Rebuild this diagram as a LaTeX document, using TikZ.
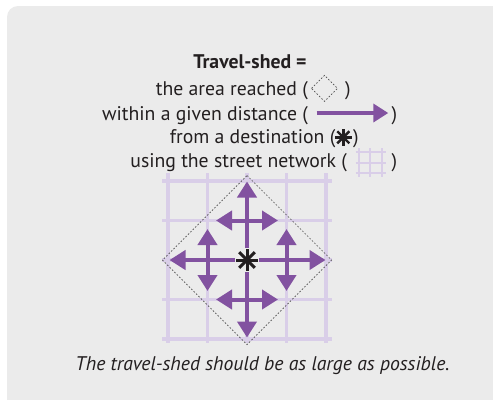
\documentclass[tikz,border=0pt]{standalone}
\usepackage{fontspec}
\setmainfont{PT Sans}
\usetikzlibrary{arrows.meta,calc}
\definecolor{bgray}{HTML}{EBEBEB}
\definecolor{ink}{HTML}{231F20}
\definecolor{arrowpurple}{RGB}{130,82,160}
\definecolor{gridpurple}{RGB}{217,206,232}
\definecolor{dashgray}{HTML}{505050}
\newcommand{\txtsize}{\fontsize{19.8}{23}\selectfont}
\tikzset{
  txt/.style={font=\txtsize, text=ink, inner sep=0pt},
  gridline/.style={draw=gridpurple, line width=3.6bp},
  smallgrid/.style={draw=gridpurple, line width=1.8bp},
  shed/.style={draw=dashgray, line width=0.7bp, dash pattern=on 1.6bp off 1.8bp},
  flow/.style={draw=arrowpurple, line width=4bp, -{Triangle[length=16bp,width=19bp]}},
  flowtwo/.style={draw=arrowpurple, line width=4bp, {Triangle[length=16bp,width=19bp]}-{Triangle[length=16bp,width=19bp]}},
  legendflow/.style={draw=arrowpurple, line width=3.5bp, -{Triangle[length=15bp,width=18bp]}},
  starline/.style={draw=ink, line width=3bp},
  halo/.style={draw=bgray, line width=7bp},
}
\begin{document}
\begin{tikzpicture}[x=1bp,y=-1bp]
\useasboundingbox (0,0) rectangle (493,399);
\fill[bgray, rounded corners=11bp] (7,6) rectangle (510,412);

% --- text lines ---
\node[txt, anchor=base] (title) at (250,68.3) {\bfseries Travel-shed =};
\node[txt, anchor=base east] (l2a) at (308,95) {the area reached (};
\node[txt, anchor=base west] (l2b) at (345,95) {)};
\node[txt, anchor=base east] (l3a) at (308,120) {within a given distance (};
\node[txt, anchor=base west] (l3b) at (391.5,120) {)};
\node[txt, anchor=base east] (l4a) at (335.5,143.3) {from a destination (};
\node[txt, anchor=base west] (l4b) at (353,143.3) {)};
\node[txt, anchor=base east] (l5a) at (347,167.3) {using the street network (};
\node[txt, anchor=base west] (l5b) at (391.5,167.3) {)};

% --- legend icons ---
\coordinate (dc) at (324.5,88.3);
\draw[shed] (311.5,88.3) -- (324.5,75.3) -- (337.5,88.3) -- (324.5,101.3) -- cycle;
\coordinate (ls) at (316.7,113);
\coordinate (le) at (388.3,113);
\draw[legendflow] (ls) -- (le);
\coordinate (sc) at (343.3,137.3);
\foreach \a in {0,45,90,135} {
  \draw[draw=ink, line width=2.4bp] ($(sc)+(\a:8.5)$) -- ($(sc)+(\a+180:8.5)$);
}
\foreach \x in {359.3,370,381.7} \draw[smallgrid] (\x,148) -- (\x,177);
\foreach \y in {151.7,162.7,173.3} \draw[smallgrid] (355.5,\y) -- (385.5,\y);

% --- street grid ---
\coordinate (c) at (247,260);
\foreach \i in {-2,...,2} {
  \draw[gridline] ($(c)+(-85,\i*39.5)$) -- ($(c)+(85,\i*39.5)$);
  \draw[gridline] ($(c)+(\i*39.5,-87)$) -- ($(c)+(\i*39.5,83)$);
}

% --- travel-shed ---
\draw[shed] ($(c)+(0,-84.5)$) -- ($(c)+(84.5,0)$) -- ($(c)+(0,84.5)$) -- ($(c)+(-84.5,0)$) -- cycle;

% --- arrows ---
\coordinate (tU) at ($(c)+(0,-78.5)$);
\coordinate (tD) at ($(c)+(0,77.5)$);
\coordinate (tL) at ($(c)+(-77.5,0)$);
\coordinate (tR) at ($(c)+(78.5,0)$);
\draw[flow] (c) -- (tU);
\draw[flow] (c) -- (tD);
\draw[flow] (c) -- (tL);
\draw[flow] (c) -- (tR);
\draw[flowtwo] ($(c)+(-31,-39.5)$) -- ($(c)+(31,-39.5)$);
\draw[flowtwo] ($(c)+(-31,39.5)$) -- ($(c)+(31,39.5)$);
\draw[flowtwo] ($(c)+(-39.5,-31)$) -- ($(c)+(-39.5,31)$);
\draw[flowtwo] ($(c)+(39.5,-31)$) -- ($(c)+(39.5,31)$);

% --- destination ---
\foreach \a in {0,45,90,135} {
  \draw[halo] ($(c)+(\a:12)$) -- ($(c)+(\a+180:12)$);
}
\foreach \a in {0,45,90,135} {
  \draw[starline] ($(c)+(\a:11)$) -- ($(c)+(\a+180:11)$);
}

% --- caption ---
\node[txt, anchor=base] (cap) at (262.5,370) {\itshape The travel-shed should be as large as possible.};
\end{tikzpicture}
\end{document}
